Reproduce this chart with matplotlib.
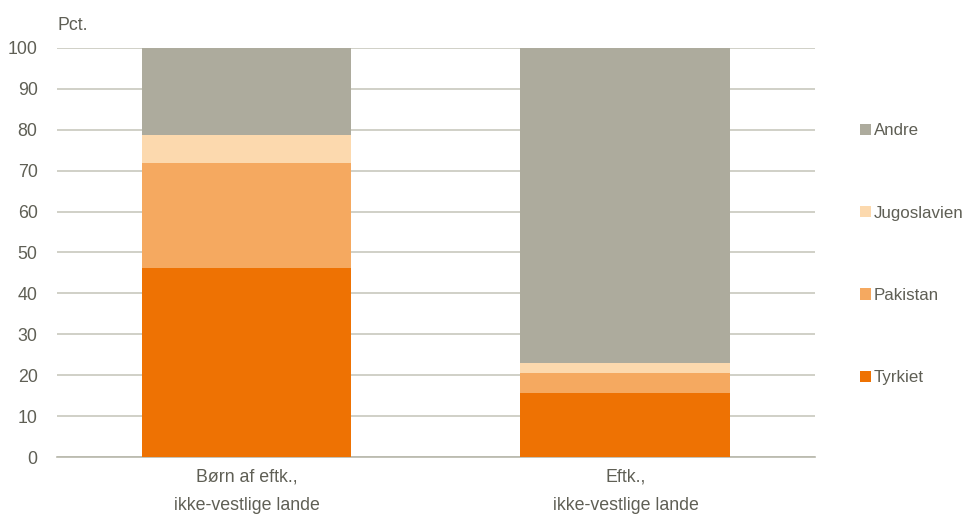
import matplotlib
matplotlib.use("Agg")
import matplotlib.pyplot as plt

plt.rcParams['font.family'] = ['Liberation Sans', 'DejaVu Sans']

categories = ["Børn af eftk.,\nikke-vestlige lande", "Eftk.,\nikke-vestlige lande"]
series = ["Tyrkiet", "Pakistan", "Jugoslavien", "Andre"]
tyrkiet = [46.2, 15.6]
pakistan = [25.7, 4.9]
jugoslavien = [6.8, 2.5]
andre = [21.3, 77.0]
values = [tyrkiet, pakistan, jugoslavien, andre]
colors = ["#ee7203", "#f5a960", "#fcd9ae", "#adab9d"]
yticks = list(range(0, 101, 10))

txt = "#5f5f55"
fig = plt.figure(figsize=(9.68, 5.16), dpi=100)
ax = fig.add_axes([0.0589, 0.1143, 0.783, 0.793])
x = list(range(len(categories)))
bottom = [0.0] * len(categories)
handles = []
for name, vals, c in zip(series, values, colors):
    b = ax.bar(x, vals, bottom=bottom, width=0.554, color=c, label=name, zorder=3)
    handles.append(b)
    bottom = [bo + v for bo, v in zip(bottom, vals)]

ax.set_xlim(-0.5, 1.5)
ax.set_ylim(0, 100)
ax.set_yticks(yticks)
ax.set_yticklabels([str(t) for t in yticks], color=txt, fontsize=12.8)
ax.set_xticks(x)
ax.set_xticklabels(categories, color=txt, fontsize=12.8, linespacing=1.9)
ax.tick_params(axis='y', length=0, pad=14)
ax.tick_params(axis='x', length=0, pad=8)
ax.grid(axis='y', color='#c4c4b8', linewidth=1.1, zorder=0)
for s in ['top', 'right', 'left']:
    ax.spines[s].set_visible(False)
ax.spines['bottom'].set_color('#b8b8ac')
ax.spines['bottom'].set_linewidth(1.2)

fig.text(0.0589, 0.935, "Pct.", color=txt, fontsize=12.8, ha='left', va='bottom')

leg = ax.legend(handles[::-1], series[::-1], loc='upper left', bbox_to_anchor=(1.05, 0.832),
                frameon=False, fontsize=12.2, labelspacing=3.97, handlelength=0.65,
                handleheight=0.65, handletextpad=0.2, borderaxespad=0)
for t in leg.get_texts():
    t.set_color(txt)

fig.savefig("out.png", dpi=100)
